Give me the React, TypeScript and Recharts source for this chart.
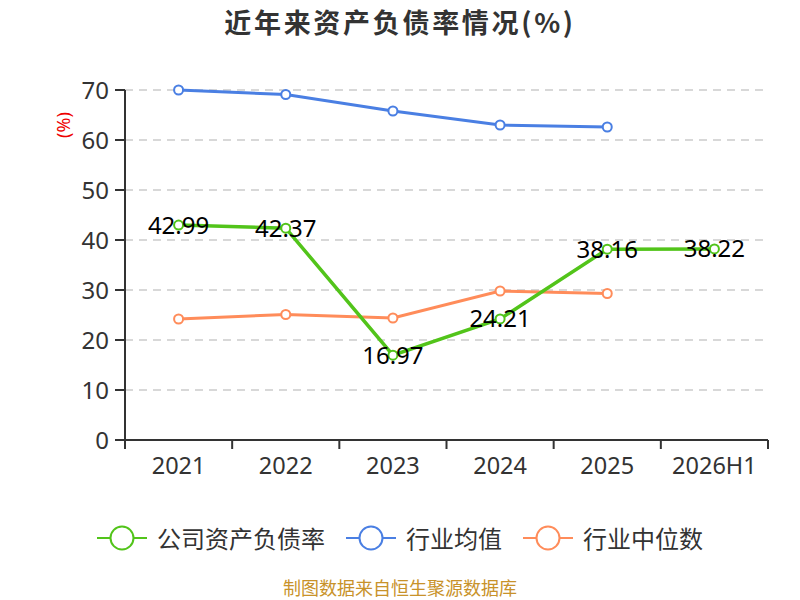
import React from 'react';
import { LineChart, Line, XAxis, YAxis, CartesianGrid, LabelList } from 'recharts';

const years = ['2021', '2022', '2023', '2024', '2025', '2026H1'];
const companyRate = [42.99, 42.37, 16.97, 24.21, 38.16, 38.22];
const industryAvg = [70.0, 69.1, 65.8, 63.0, 62.6, null];
const industryMedian = [24.2, 25.1, 24.4, 29.8, 29.3, null];
const yTicks = [0, 10, 20, 30, 40, 50, 60, 70];

const data = years.map((y, i) => ({
  year: y,
  company: companyRate[i],
  avg: industryAvg[i],
  median: industryMedian[i],
}));

const GREEN = '#52c41a';
const BLUE = '#4a7fe3';
const ORANGE = '#ff8c5a';
const FONT = '"Noto Sans CJK SC", "Noto Sans", sans-serif';
const FONT_NUM = '"Noto Sans", "Noto Sans CJK SC", sans-serif';

const W = 800;
const H = 600;
const M_LEFT = 40;
const Y_W = 85;
const M_RIGHT = 32;
const PLOT_LEFT = M_LEFT + Y_W;
const PLOT_W = W - PLOT_LEFT - M_RIGHT;
const BW = PLOT_W / years.length;
const AXIS_Y = 440;

const XTick = (props: any) => {
  const { x, payload, index } = props;
  const last = index === years.length - 1;
  return (
    <g>
      <line x1={x - BW / 2} y1={AXIS_Y} x2={x - BW / 2} y2={AXIS_Y + 9} stroke="#333" strokeWidth={2} />
      {last && <line x1={x + BW / 2} y1={AXIS_Y} x2={x + BW / 2} y2={AXIS_Y + 9} stroke="#333" strokeWidth={2} />}
      <text x={x} y={AXIS_Y + 34} textAnchor="middle" fontSize={23.5} fill="#333" fontFamily={FONT_NUM}>
        {payload.value}
      </text>
    </g>
  );
};

const legendItems = [
  { name: '公司资产负债率', color: GREEN },
  { name: '行业均值', color: BLUE },
  { name: '行业中位数', color: ORANGE },
];

const LegendIcon = ({ color }: { color: string }) => (
  <svg width={50} height={28} style={{ display: 'block' }}>
    <line x1={0} y1={14} x2={50} y2={14} stroke={color} strokeWidth={2} />
    <circle cx={25} cy={14} r={11.5} fill="#fff" stroke={color} strokeWidth={2} />
  </svg>
);

export default function App() {
  return (
    <div style={{ position: 'absolute', left: 0, top: 0, width: W, height: H, background: '#fff', fontFamily: FONT, overflow: 'hidden' }}>
      <div
        style={{
          position: 'absolute',
          top: 3,
          left: 0,
          width: W,
          textAlign: 'center',
          fontSize: 27,
          fontWeight: 'bold',
          color: '#333',
          letterSpacing: 2.7,
          lineHeight: '38px',
        }}
      >
        近年来资产负债率情况(%)
      </div>
      <div
        style={{
          position: 'absolute',
          left: 43,
          top: 113,
          width: 40,
          height: 24,
          transform: 'rotate(-90deg)',
          color: '#e00',
          fontSize: 18,
          lineHeight: '24px',
          textAlign: 'center',
          whiteSpace: 'nowrap',
          fontFamily: FONT_NUM,
        }}
      >
        (%)
      </div>
      <div style={{ position: 'absolute', left: 0, top: 0 }}>
        <LineChart width={W} height={H} data={data} margin={{ top: 90, right: M_RIGHT, left: M_LEFT, bottom: 130 }}>
          <CartesianGrid vertical={false} stroke="#ccc" strokeDasharray="8 6" strokeWidth={1.5} />
          <XAxis
            dataKey="year"
            height={30}
            padding={{ left: BW / 2, right: BW / 2 }}
            axisLine={{ stroke: '#333', strokeWidth: 2 }}
            tickLine={false}
            tick={<XTick />}
            interval={0}
          />
          <YAxis
            width={Y_W}
            domain={[0, 70]}
            ticks={yTicks}
            interval={0}
            axisLine={{ stroke: '#333', strokeWidth: 2 }}
            tickLine={{ stroke: '#333', strokeWidth: 2 }}
            tickSize={10}
            tickMargin={6}
            tick={{ fontSize: 24, fill: '#333', fontFamily: FONT_NUM }}
          />
          <Line
            dataKey="avg"
            stroke={BLUE}
            strokeWidth={3}
            dot={{ r: 4.5, fill: '#fff', stroke: BLUE, strokeWidth: 2 }}
            isAnimationActive={false}
          />
          <Line
            dataKey="median"
            stroke={ORANGE}
            strokeWidth={3}
            dot={{ r: 4.5, fill: '#fff', stroke: ORANGE, strokeWidth: 2 }}
            isAnimationActive={false}
          />
          <Line
            dataKey="company"
            stroke={GREEN}
            strokeWidth={3.5}
            dot={{ r: 4.5, fill: '#fff', stroke: GREEN, strokeWidth: 2 }}
            isAnimationActive={false}
          >
            <LabelList dataKey="company" position="center" fontSize={24} fill="#000" fontFamily={FONT_NUM} />
          </Line>
        </LineChart>
      </div>
      <div
        style={{
          position: 'absolute',
          top: 523,
          left: 0,
          width: W,
          display: 'flex',
          justifyContent: 'center',
          alignItems: 'center',
          gap: 21,
          fontSize: 24,
          color: '#333',
        }}
      >
        {legendItems.map((it) => (
          <div key={it.name} style={{ display: 'flex', alignItems: 'center', gap: 10 }}>
            <LegendIcon color={it.color} />
            <span style={{ lineHeight: '30px' }}>{it.name}</span>
          </div>
        ))}
      </div>
      <div
        style={{
          position: 'absolute',
          top: 577,
          left: 0,
          width: W,
          textAlign: 'center',
          fontSize: 18,
          color: '#c8922a',
          lineHeight: '20px',
        }}
      >
        制图数据来自恒生聚源数据库
      </div>
    </div>
  );
}
